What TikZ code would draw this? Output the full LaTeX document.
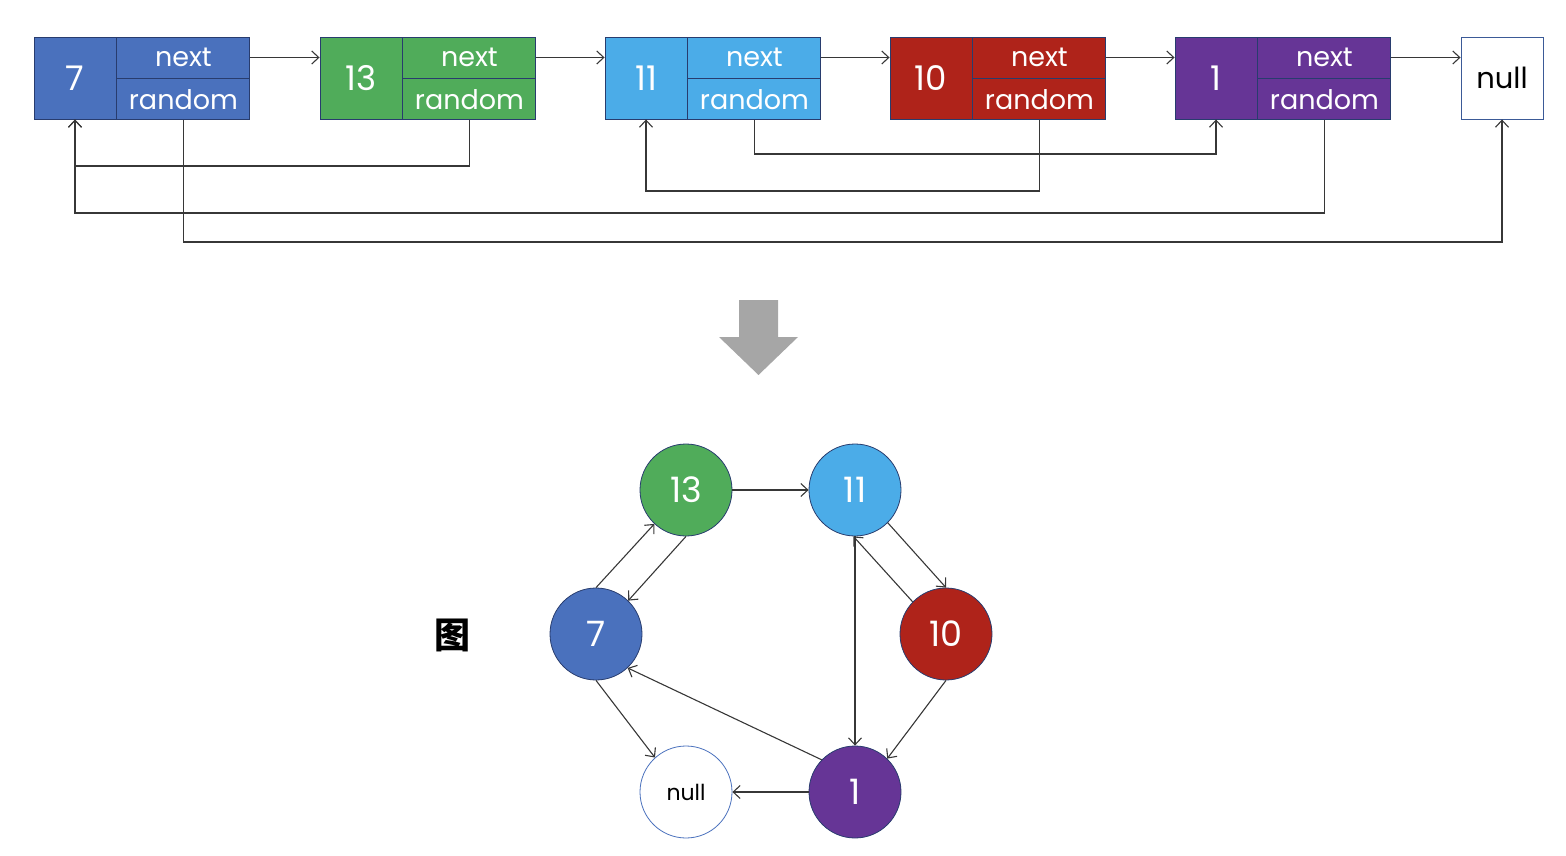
\documentclass[tikz,border=0pt]{standalone}
\usepackage{fontspec}
\setmainfont{Poppins}
\newfontfamily\cjk{Noto Sans CJK SC}
\usetikzlibrary{arrows.meta}
\definecolor{c7}{RGB}{74,113,189}
\definecolor{c13}{RGB}{80,172,90}
\definecolor{c11}{RGB}{75,172,232}
\definecolor{c10}{RGB}{175,35,26}
\definecolor{c1}{RGB}{102,53,150}
\definecolor{bordc}{RGB}{40,60,110}
\definecolor{linec}{RGB}{55,55,55}
\definecolor{garrow}{RGB}{166,166,166}
\begin{document}
\begin{tikzpicture}[x=1pt,y=-1pt,
  valcell/.style={draw=bordc, line width=0.9pt, minimum width=82pt, minimum height=82pt, inner sep=0pt, text=white, font=\fontsize{34}{34}\selectfont},
  ptrcell/.style={draw=bordc, line width=0.9pt, minimum width=133pt, minimum height=41pt, inner sep=0pt, text=white, font=\fontsize{27}{27}\selectfont, anchor=north west},
  link/.style={draw=linec, line width=1.1pt, -{Straight Barb[length=7pt,width=13pt]}},
  gnode/.style={circle, minimum size=92pt, inner sep=0pt, draw=bordc, line width=0.8pt, text=white, font=\fontsize{35}{35}\selectfont}]
\useasboundingbox (0,0) rectangle (1566,856);
% top linked list
\foreach \n/\l in {7/34,13/320,11/605,10/890,1/1175}{
  \node[valcell, fill=c\n] (v\n) at (\l+41,78) {\n};
  \node[ptrcell, fill=c\n] (x\n) at (v\n.north east) {next};
  \node[ptrcell, fill=c\n] (r\n) at (x\n.south west) {random};
}
\node[valcell, fill=white, draw=c7!80!black, text=black, font=\fontsize{29}{29}\selectfont] (nnull) at (1502,78) {null};
% next pointers
\draw[link] (x7.east) -- (v13.west |- x7.east);
\draw[link] (x13.east) -- (v11.west |- x13.east);
\draw[link] (x11.east) -- (v10.west |- x11.east);
\draw[link] (x10.east) -- (v1.west |- x10.east);
\draw[link] (x1.east) -- (nnull.west |- x1.east);
% random pointers
\coordinate (h1) at (0,154);
\coordinate (h2) at (0,166);
\coordinate (h3) at (0,191);
\coordinate (h4) at (0,213);
\coordinate (h5) at (0,242);
\draw[link] (r13.south) -- (r13.south |- h2) -| (v7.south);
\draw[link] (r11.south) -- (r11.south |- h1) -| (v1.south);
\draw[link] (r10.south) -- (r10.south |- h3) -| (v11.south);
\draw[link] (r1.south) -- (r1.south |- h4) -| (v7.south);
\draw[link] (r7.south) -- (r7.south |- h5) -| (nnull.south);
% big gray arrow
\fill[garrow] (739,300) -- (778,300) -- (778,337) -- (798,337) -- (758.5,375) -- (719,337) -- (739,337) -- cycle;
% graph
\node[gnode, fill=c13] (g13) at (686,490) {13};
\node[gnode, fill=c11] (g11) at (855,490) {11};
\node[gnode, fill=c7] (g7) at (596,634) {7};
\node[gnode, fill=c10] (g10) at (946,634) {10};
\node[gnode, fill=white, draw=c7, text=black, font=\fontsize{22}{22}\selectfont] (gnull) at (686,792) {null};
\node[gnode, fill=c1] (g1) at (855,792) {1};
\node[font=\cjk\bfseries\fontsize{36}{36}\selectfont] (fig) at (452,635) {图};
\draw[link] (g13.east) -- (g11.west);
\draw[link] (g7.90) -- (g13.227);
\draw[link] (g13.270) -- (g7.46);
\draw[link] (g11.315) -- (g10.90);
\draw[link] (g10.136) -- (g11.268);
\draw[link] (g11.270) -- (g1.90);
\draw[link] (g10.270) -- (g1.46);
\draw[link] (g1.136) -- (g7.313);
\draw[link] (g1.180) -- (gnull.0);
\draw[link] (g7.270) -- (gnull.132);
\end{tikzpicture}
\end{document}
